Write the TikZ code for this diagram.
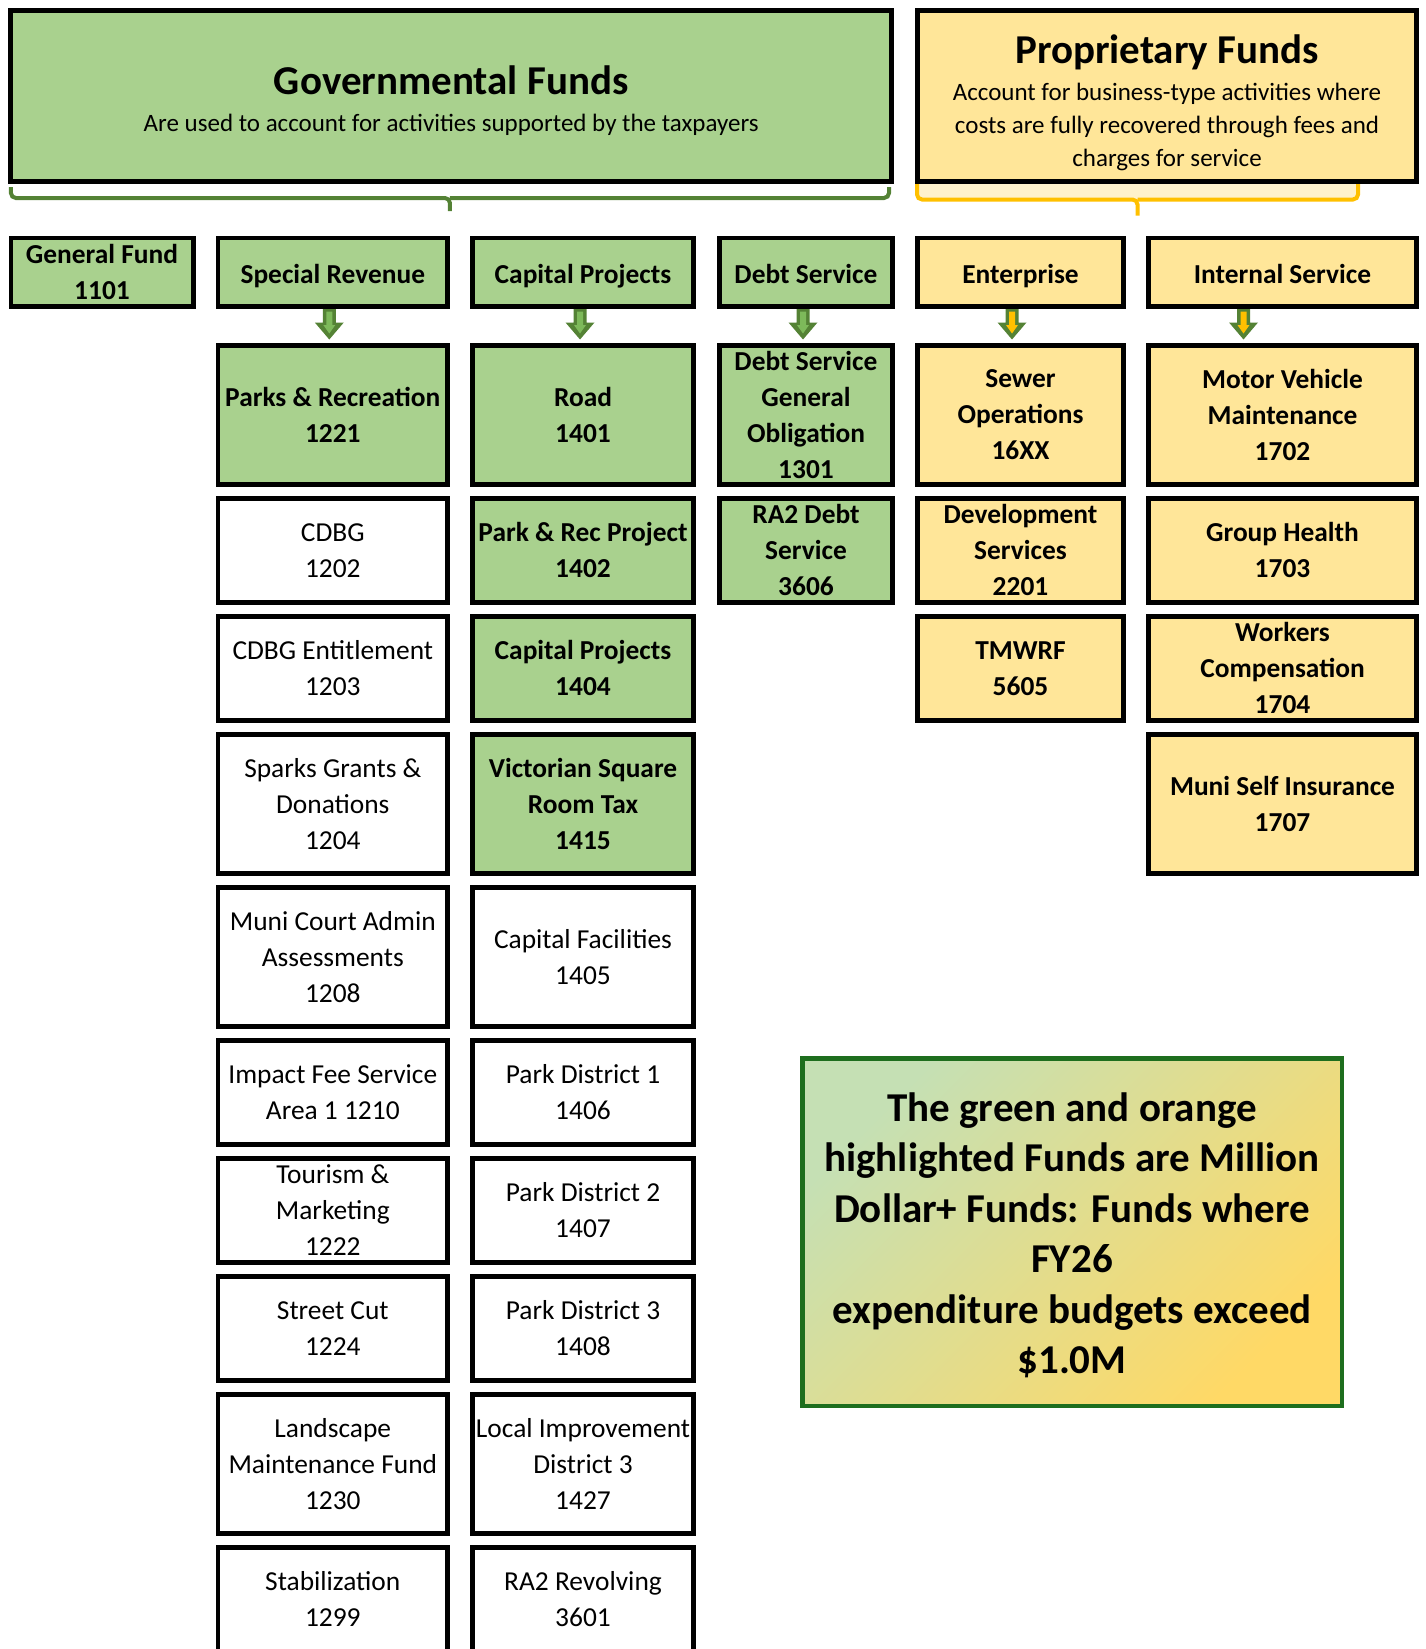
\documentclass[tikz,border=0pt]{standalone}
\usepackage{fontspec}
\setmainfont{Carlito}
\usetikzlibrary{positioning, calc}

\definecolor{govgreen}{HTML}{A9D18E}
\definecolor{propyellow}{HTML}{FFE699}
\definecolor{propfill}{HTML}{FFF2CC}
\definecolor{bracegreen}{HTML}{548235}
\definecolor{braceyellow}{HTML}{FFC000}
\definecolor{arrlight}{HTML}{7DB95A}
\definecolor{arrdark}{HTML}{548235}
\definecolor{noteborder}{HTML}{1E6E1E}
\definecolor{notegreen}{HTML}{C5E0B4}
\definecolor{noteyellow}{HTML}{FFD966}

\newcommand{\fundfont}{\fontsize{27.4}{36}\selectfont}
\newcommand{\subfont}{\fontsize{25}{33}\selectfont}
\newcommand{\titlefont}{\fontsize{41}{48}\selectfont\bfseries}
\newcommand{\notefont}{\fontsize{41}{50.5}\selectfont\bfseries}

\begin{document}
\begin{tikzpicture}[x=1pt, y=-1pt,
	fund/.style={draw=black, line width=4.7pt, inner sep=0pt, align=center, font=\fundfont, text depth=-4pt},
	gfund/.style={fund, fill=govgreen, font=\fundfont\bfseries},
	pfund/.style={fund, fill=propyellow, font=\fundfont\bfseries},
	wfund/.style={fund, fill=white},
	oneline/.style={text height=28pt, text depth=6pt},
	headbox/.style={draw=black, line width=4.7pt, minimum height=170.9pt},
	headtext/.style={inner sep=0pt, align=center, font=\subfont},
	headrow/.style={minimum height=68.7pt},
	tall/.style={minimum height=138.8pt},
	short/.style={minimum height=103.8pt},
	gfw/.style={minimum width=182.3pt},
	srw/.style={minimum width=229.7pt},
	cpw/.style={minimum width=221.3pt},
	dsw/.style={minimum width=173.3pt},
	enw/.style={minimum width=206.3pt},
	isw/.style={minimum width=268.3pt},
	arrowout/.style={fill=arrdark},
	garrow/.style={fill=arrlight},
	yarrow/.style={fill=braceyellow},
	gbrace/.style={draw=bracegreen, line width=4pt, rounded corners=5pt},
	ybrace/.style={draw=braceyellow, line width=4pt, rounded corners=5pt},
	note/.style={draw=noteborder, line width=4.5pt, top color=notegreen, bottom color=noteyellow,
		shading angle=45, minimum width=539.5pt, minimum height=347.5pt},
	notetext/.style={inner sep=0pt, align=center, font=\notefont}]

	\useasboundingbox (0,0) rectangle (1425,1649);

	% fund types
	\node[headbox, fill=govgreen, minimum width=880.9pt] (govt) at (451.2,96.2) {};
	\node[headtext] (govtx) at ($(govt.center)+(0,4.7)$)
		{{\titlefont Governmental Funds}\\[3.6pt]Are used to account for activities supported by the taxpayers};
	\node[headbox, fill=propyellow, minimum width=499.3pt] (prop) at (1167,96.2) {};
	\node[headtext] (proptx) at ($(prop.center)+(0,6.5)$)
		{{\titlefont Proprietary Funds}\\[4.4pt]Account for business-type activities where\\costs are fully recovered through fees and\\charges for service};

	% brackets
	\coordinate (gl) at ($(govt.south west)+(2.5,3)$);
	\coordinate (gr) at ($(govt.south east)+(-5,3)$);
	\coordinate (gm) at ($(gl)!0.5!(gr)+(0,11)$);
	\draw[gbrace] (gl) |- (gm) -- ++(0,13);
	\draw[gbrace] (gr) |- (gm);

	\coordinate (yl) at ($(prop.south west)+(2,0)$);
	\coordinate (yr) at ($(prop.south west)+(443,0)$);
	\coordinate (ym) at ($(yl)!0.5!(yr)+(0,15.5)$);
	\fill[propfill] (yl) rectangle ($(yr)+(0,15.5)$);
	\draw[ybrace] (yl) |- (ym) -- ++(0,16);
	\draw[ybrace] (yr) |- (ym);

	% fund groups
	\node[gfund, headrow, gfw] (gf) at (102,272.3) {General Fund\\1101};
	\node[gfund, headrow, srw, oneline] (sr) at (332.8,272.3) {Special Revenue};
	\node[gfund, headrow, cpw, oneline] (cp) at (583,272.3) {Capital Projects};
	\node[gfund, headrow, dsw, oneline] (ds) at (806,272.3) {Debt Service};
	\node[pfund, headrow, enw, oneline] (en) at (1020.5,272.3) {Enterprise};
	\node[pfund, headrow, isw, oneline] (is) at (1282.5,272.3) {Internal Service};

	% special revenue
	\node[gfund, tall, srw, below=34pt of sr] (pr) {Parks \& Recreation\\1221};
	\node[wfund, short, srw, below=9.5pt of pr] (cdbg) {CDBG\\1202};
	\node[wfund, short, srw, below=9.5pt of cdbg] (cdbge) {CDBG Entitlement\\1203};
	\node[wfund, tall, srw, below=9.5pt of cdbge] (spg) {Sparks Grants \&\\Donations\\1204};
	\node[wfund, tall, srw, below=9.5pt of spg] (mca) {Muni Court Admin\\Assessments\\1208};
	\node[wfund, short, srw, below=9.5pt of mca] (ifs) {Impact Fee Service\\Area 1 1210};
	\node[wfund, short, srw, below=9.5pt of ifs] (tm) {Tourism \&\\Marketing\\1222};
	\node[wfund, short, srw, below=9.5pt of tm] (sc) {Street Cut\\1224};
	\node[wfund, tall, srw, below=9.5pt of sc] (lm) {Landscape\\Maintenance Fund\\1230};
	\node[wfund, short, srw, below=9.5pt of lm] (stab) {Stabilization\\1299};

	% capital projects
	\node[gfund, tall, cpw, below=34pt of cp] (rd) {Road\\1401};
	\node[gfund, short, cpw, below=9.5pt of rd] (prp) {Park \& Rec Project\\1402};
	\node[gfund, short, cpw, below=9.5pt of prp] (cpj) {Capital Projects\\1404};
	\node[gfund, tall, cpw, below=9.5pt of cpj] (vsq) {Victorian Square\\Room Tax\\1415};
	\node[wfund, tall, cpw, below=9.5pt of vsq] (cf) {Capital Facilities\\1405};
	\node[wfund, short, cpw, below=9.5pt of cf] (pd1) {Park District 1\\1406};
	\node[wfund, short, cpw, below=9.5pt of pd1] (pd2) {Park District 2\\1407};
	\node[wfund, short, cpw, below=9.5pt of pd2] (pd3) {Park District 3\\1408};
	\node[wfund, tall, cpw, below=9.5pt of pd3] (lid) {Local Improvement\\District 3\\1427};
	\node[wfund, short, cpw, below=9.5pt of lid] (rev) {RA2 Revolving\\3601};

	% debt service
	\node[gfund, tall, dsw, below=34pt of ds] (dsgo) {Debt Service\\General\\Obligation\\1301};
	\node[gfund, short, dsw, below=9.5pt of dsgo] (ra2) {RA2 Debt\\Service\\3606};

	% enterprise
	\node[pfund, tall, enw, below=34pt of en] (sw) {Sewer\\Operations\\16XX};
	\node[pfund, short, enw, below=9.5pt of sw] (dev) {Development\\Services\\2201};
	\node[pfund, short, enw, below=9.5pt of dev] (tmw) {TMWRF\\5605};

	% internal service
	\node[pfund, tall, isw, below=34pt of is] (mv) {Motor Vehicle\\Maintenance\\1702};
	\node[pfund, short, isw, below=9.5pt of mv] (gh) {Group Health\\1703};
	\node[pfund, short, isw, below=9.5pt of gh] (wc) {Workers\\Compensation\\1704};
	\node[pfund, tall, isw, below=9.5pt of wc] (msi) {Muni Self Insurance\\1707};

	% block arrows
	\foreach \a/\b/\dx/\s in {sr/pr/-3.5/garrow, cp/rd/-3/garrow, ds/dsgo/-3/garrow, en/sw/-8.5/yarrow, is/mv/-39/yarrow} {
		\coordinate (t) at ($(\a.south)+(\dx,0)$);
		\coordinate (h) at (t |- \b.north);
		\fill[arrowout] ($(t)+(-6.5,0)$) -- ($(t)+(-6.5,13.5)$) -- ($(t)+(-14.5,13.5)$) -- ($(h)+(0,-3.5)$)
			-- ($(t)+(14.5,13.5)$) -- ($(t)+(6.5,13.5)$) -- ($(t)+(6.5,0)$) -- cycle;
		\fill[\s] ($(t)+(-3,2.5)$) -- ($(t)+(-3,16)$) -- ($(t)+(-6,16)$) -- ($(h)+(0,-9.5)$)
			-- ($(t)+(6,16)$) -- ($(t)+(3,16)$) -- ($(t)+(3,2.5)$) -- cycle;
	}

	% note
	\node[note] (nt) at (1072,1232) {};
	\node[notetext] (nttx) at ($(nt.center)+(0,3.2)$) {The green and orange\\highlighted Funds are Million\\Dollar+ Funds: Funds where\\FY26\\expenditure budgets exceed\\\$1.0M};
\end{tikzpicture}
\end{document}
